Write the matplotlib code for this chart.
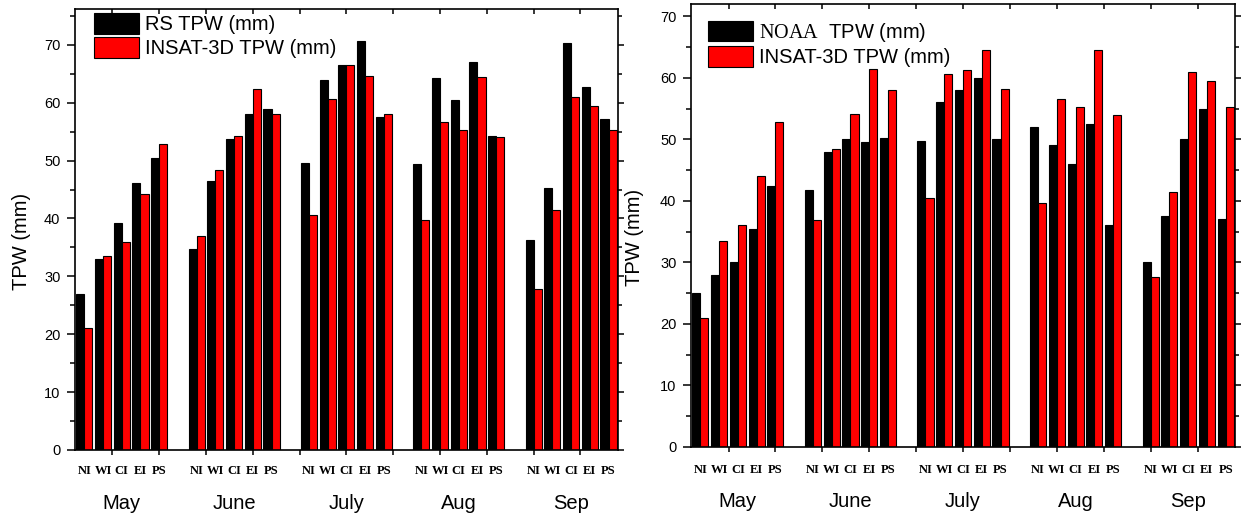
import numpy as np
import matplotlib
matplotlib.use('Agg')
import matplotlib.pyplot as plt
from matplotlib.ticker import MultipleLocator, NullFormatter

## fonts: Arial-like for most text, Times-like for the region codes
plt.rcParams['font.family'] = ['Liberation Sans', 'DejaVu Sans']
plt.rcParams['mathtext.fontset'] = 'custom'
plt.rcParams['mathtext.rm'] = 'Liberation Serif'

## data (TPW in mm), one row per month, one column per region
MONTHS = ['May', 'June', 'July', 'Aug', 'Sep']
REGIONS = ['NI', 'WI', 'CI', 'EI', 'PS']

rs_tpw = [[26.9, 33.0, 39.2, 46.2, 50.4],
          [34.7, 46.5, 53.7, 58.0, 59.0],
          [49.5, 63.9, 66.5, 70.6, 57.6],
          [49.4, 64.3, 60.5, 67.1, 54.2],
          [36.2, 45.2, 70.4, 62.7, 57.2]]

insat_vs_rs = [[21.0, 33.5, 36.0, 44.2, 52.9],
               [36.9, 48.4, 54.2, 62.4, 58.0],
               [40.6, 60.7, 66.5, 64.6, 58.1],
               [39.7, 56.6, 55.3, 64.5, 54.0],
               [27.8, 41.5, 61.0, 59.5, 55.3]]

noaa_tpw = [[25.0, 28.0, 30.0, 35.5, 42.4],
            [41.7, 47.9, 50.0, 49.5, 50.2],
            [49.8, 56.0, 58.0, 60.0, 50.0],
            [52.0, 49.1, 46.0, 52.5, 36.0],
            [30.0, 37.6, 50.0, 55.0, 37.0]]

insat_vs_noaa = [[20.9, 33.4, 36.0, 44.1, 52.9],
                 [36.9, 48.4, 54.1, 61.4, 58.0],
                 [40.5, 60.7, 61.3, 64.6, 58.2],
                 [39.7, 56.5, 55.2, 64.5, 53.9],
                 [27.7, 41.5, 61.0, 59.5, 55.3]]

BAR_W = 0.43
GROUP_GAP = 1          # empty slots between months
RED = '#ff0000'


def plot_panel(ax, ref, insat, ref_label, ymax, label_dy):
    ref = np.array(ref)
    insat = np.array(insat)
    n_m, n_r = ref.shape
    x = (np.arange(n_m)[:, None] * (n_r + GROUP_GAP) + np.arange(n_r)[None, :]).ravel()

    ax.bar(x - BAR_W / 2, ref.ravel(), BAR_W, color='black', edgecolor='black',
           linewidth=0.8, label=ref_label, zorder=2)
    ax.bar(x + BAR_W / 2, insat.ravel(), BAR_W, color=RED, edgecolor='black',
           linewidth=0.8, label='INSAT-3D TPW (mm)', zorder=2)

    ax.set_xlim(-0.5, x.max() + 0.5)
    ax.set_ylim(0, ymax)

    # x ticks carry no labels; region / month names are placed as text
    ax.xaxis.set_major_locator(MultipleLocator(2.5, offset=1.5))
    ax.xaxis.set_major_formatter(NullFormatter())
    ax.yaxis.set_major_locator(MultipleLocator(10))
    ax.yaxis.set_minor_locator(MultipleLocator(5))

    ax.tick_params(axis='y', which='major', direction='out', length=5.5, width=1.1,
                   labelsize=10.5, pad=5)
    ax.tick_params(axis='y', which='minor', direction='out', length=3.5, width=1.1)
    ax.tick_params(axis='x', which='major', direction='out', length=3.5, width=1.1)
    ax.tick_params(axis='both', which='both', top=True, right=True)
    # mirrored ticks on top/right point inward
    for t in ax.xaxis.get_major_ticks():
        t.tick2line.set_marker(3)
        t.tick2line.set_markersize(3.5)
    for t in ax.yaxis.get_major_ticks():
        t.tick2line.set_marker(1)
        t.tick2line.set_markersize(4.5)
    for t in ax.yaxis.get_minor_ticks():
        t.tick2line.set_marker(1)
        t.tick2line.set_markersize(3)

    for s in ax.spines.values():
        s.set_linewidth(1.2)

    trans = ax.get_xaxis_transform()
    for xi, name in zip(x, REGIONS * n_m):
        ax.text(xi, label_dy[0], name, transform=trans, ha='center', va='center',
                fontsize=9, fontweight='bold', family='Liberation Serif')
    for m, name in enumerate(MONTHS):
        xc = m * (n_r + GROUP_GAP) + (n_r - 1) / 2
        ax.text(xc, label_dy[1], name, transform=trans, ha='center', va='center',
                fontsize=14.5)

    ax.set_ylabel('TPW (mm)', fontsize=14.5)
    return ax


fig = plt.figure(figsize=(12.43, 5.18), dpi=100)
ax1 = fig.add_axes([0.0603, 0.1313, 0.4368, 0.8514])
ax2 = fig.add_axes([0.5559, 0.1371, 0.4377, 0.8552])

plot_panel(ax1, rs_tpw, insat_vs_rs, 'RS TPW (mm)', 76.2, (-0.047, -0.121))
plot_panel(ax2, noaa_tpw, insat_vs_noaa, r'$\mathrm{NOAA}$  TPW (mm)', 72, (-0.052, -0.122))

# label coords give the right-hand edge of the rotated label
ax1.yaxis.set_label_coords(-0.081, 0.474)
ax2.yaxis.set_label_coords(-0.086, 0.474)

leg_kw = dict(loc='upper left', frameon=False, fontsize=14.5, handlelength=2.25,
              handleheight=1.2, labelspacing=0.12, handletextpad=0.3,
              borderpad=0, borderaxespad=0)
ax1.legend(bbox_to_anchor=(0.035, 0.99), **leg_kw)
ax2.legend(bbox_to_anchor=(0.031, 0.962), **leg_kw)

fig.savefig('out.png', dpi=100)
